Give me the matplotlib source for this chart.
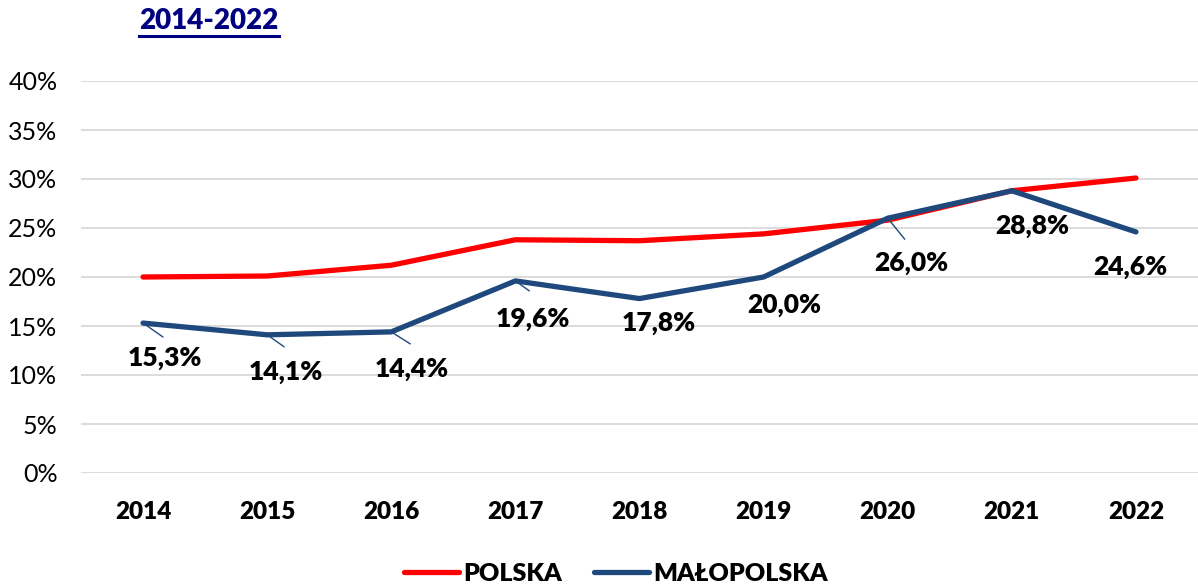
import matplotlib
matplotlib.use("Agg")
import matplotlib.pyplot as plt
from matplotlib.lines import Line2D

years = ["2014", "2015", "2016", "2017", "2018", "2019", "2020", "2021", "2022"]
polska = [20.0, 20.1, 21.2, 23.8, 23.7, 24.4, 25.8, 28.8, 30.1]
malopolska = [15.3, 14.1, 14.4, 19.6, 17.8, 20.0, 26.0, 28.8, 24.6]
labels_malopolska = ["15,3%", "14,1%", "14,4%", "19,6%", "17,8%", "20,0%", "26,0%", "28,8%", "24,6%"]
yticks = [0, 5, 10, 15, 20, 25, 30, 35, 40]
ytick_labels = ["0%", "5%", "10%", "15%", "20%", "25%", "30%", "35%", "40%"]

# label offsets in pixels (dx, dy downward) and leader-line ends
label_off = [(22, 35), (19, 37), (20, 37), (18, 38), (19, 24), (21, 28), (24, 45), (20, 35), (-6, 35)]
leader_off = [(20, 14), (17, 12), (19, 12), (14, 10), None, None, (17, 21), None, None]

RED = "#ff0000"
BLUE = "#1f497d"
plt.rcParams['font.family'] = ['Lato', 'DejaVu Sans']

fig = plt.figure(figsize=(11.98, 5.87), dpi=100)
ax = fig.add_axes([81/1198, 1 - 473/587, 1 - 81/1198, (473 - 81)/587])

x = list(range(len(years)))
l1, = ax.plot(x, polska, color=RED, lw=3.8, solid_capstyle='round', solid_joinstyle='round', label="POLSKA", zorder=3)
l2, = ax.plot(x, malopolska, color=BLUE, lw=3.8, solid_capstyle='round', solid_joinstyle='round', label="MAŁOPOLSKA", zorder=4)

for i, (v, lab) in enumerate(zip(malopolska, labels_malopolska)):
    dx, dy = label_off[i]
    ax.annotate(lab, xy=(i, v), xytext=(dx, -dy), textcoords='offset pixels',
                ha='center', va='center', fontsize=19, fontweight='heavy', color='black', zorder=5)
    if leader_off[i] is not None:
        lx, ly = leader_off[i]
        ax.annotate('', xy=(i, v), xytext=(lx, -ly), textcoords='offset pixels',
                    arrowprops=dict(arrowstyle='-', color=BLUE, lw=1.0, shrinkA=0, shrinkB=0), zorder=4)

ax.set_xlim(-0.5, len(years) - 0.5)
ax.set_ylim(0, 40)
ax.set_yticks(yticks)
ax.set_yticklabels(ytick_labels, fontsize=18)
ax.set_xticks(x)
ax.set_xticklabels(years, fontsize=17.5, fontweight='heavy')
ax.tick_params(axis='both', length=0)
ax.tick_params(axis='y', pad=17)
ax.tick_params(axis='x', pad=20)
ax.grid(axis='y', color='#d9d9d9', lw=1.3)
ax.set_axisbelow(True)
for s in ax.spines.values():
    s.set_visible(False)

fig.legend(handles=[l1, l2], loc='lower center', bbox_to_anchor=(0.514, -0.035), ncol=2,
           frameon=False, prop={'size': 18, 'weight': 'heavy'}, handlelength=2.2,
           handletextpad=0.15, columnspacing=1.3)

t = fig.text(209/1198, 1 - 21/587, "2014-2022", ha='center', va='center', fontsize=20,
             fontweight='heavy', color='#000080')
fig.canvas.draw()
bb = t.get_window_extent()
fig.add_artist(Line2D([bb.x0 / 1198, bb.x1 / 1198], [1 - 36/587, 1 - 36/587],
                      color='#000080', lw=2.2, transform=fig.transFigure))

fig.savefig("out.png", dpi=100)
